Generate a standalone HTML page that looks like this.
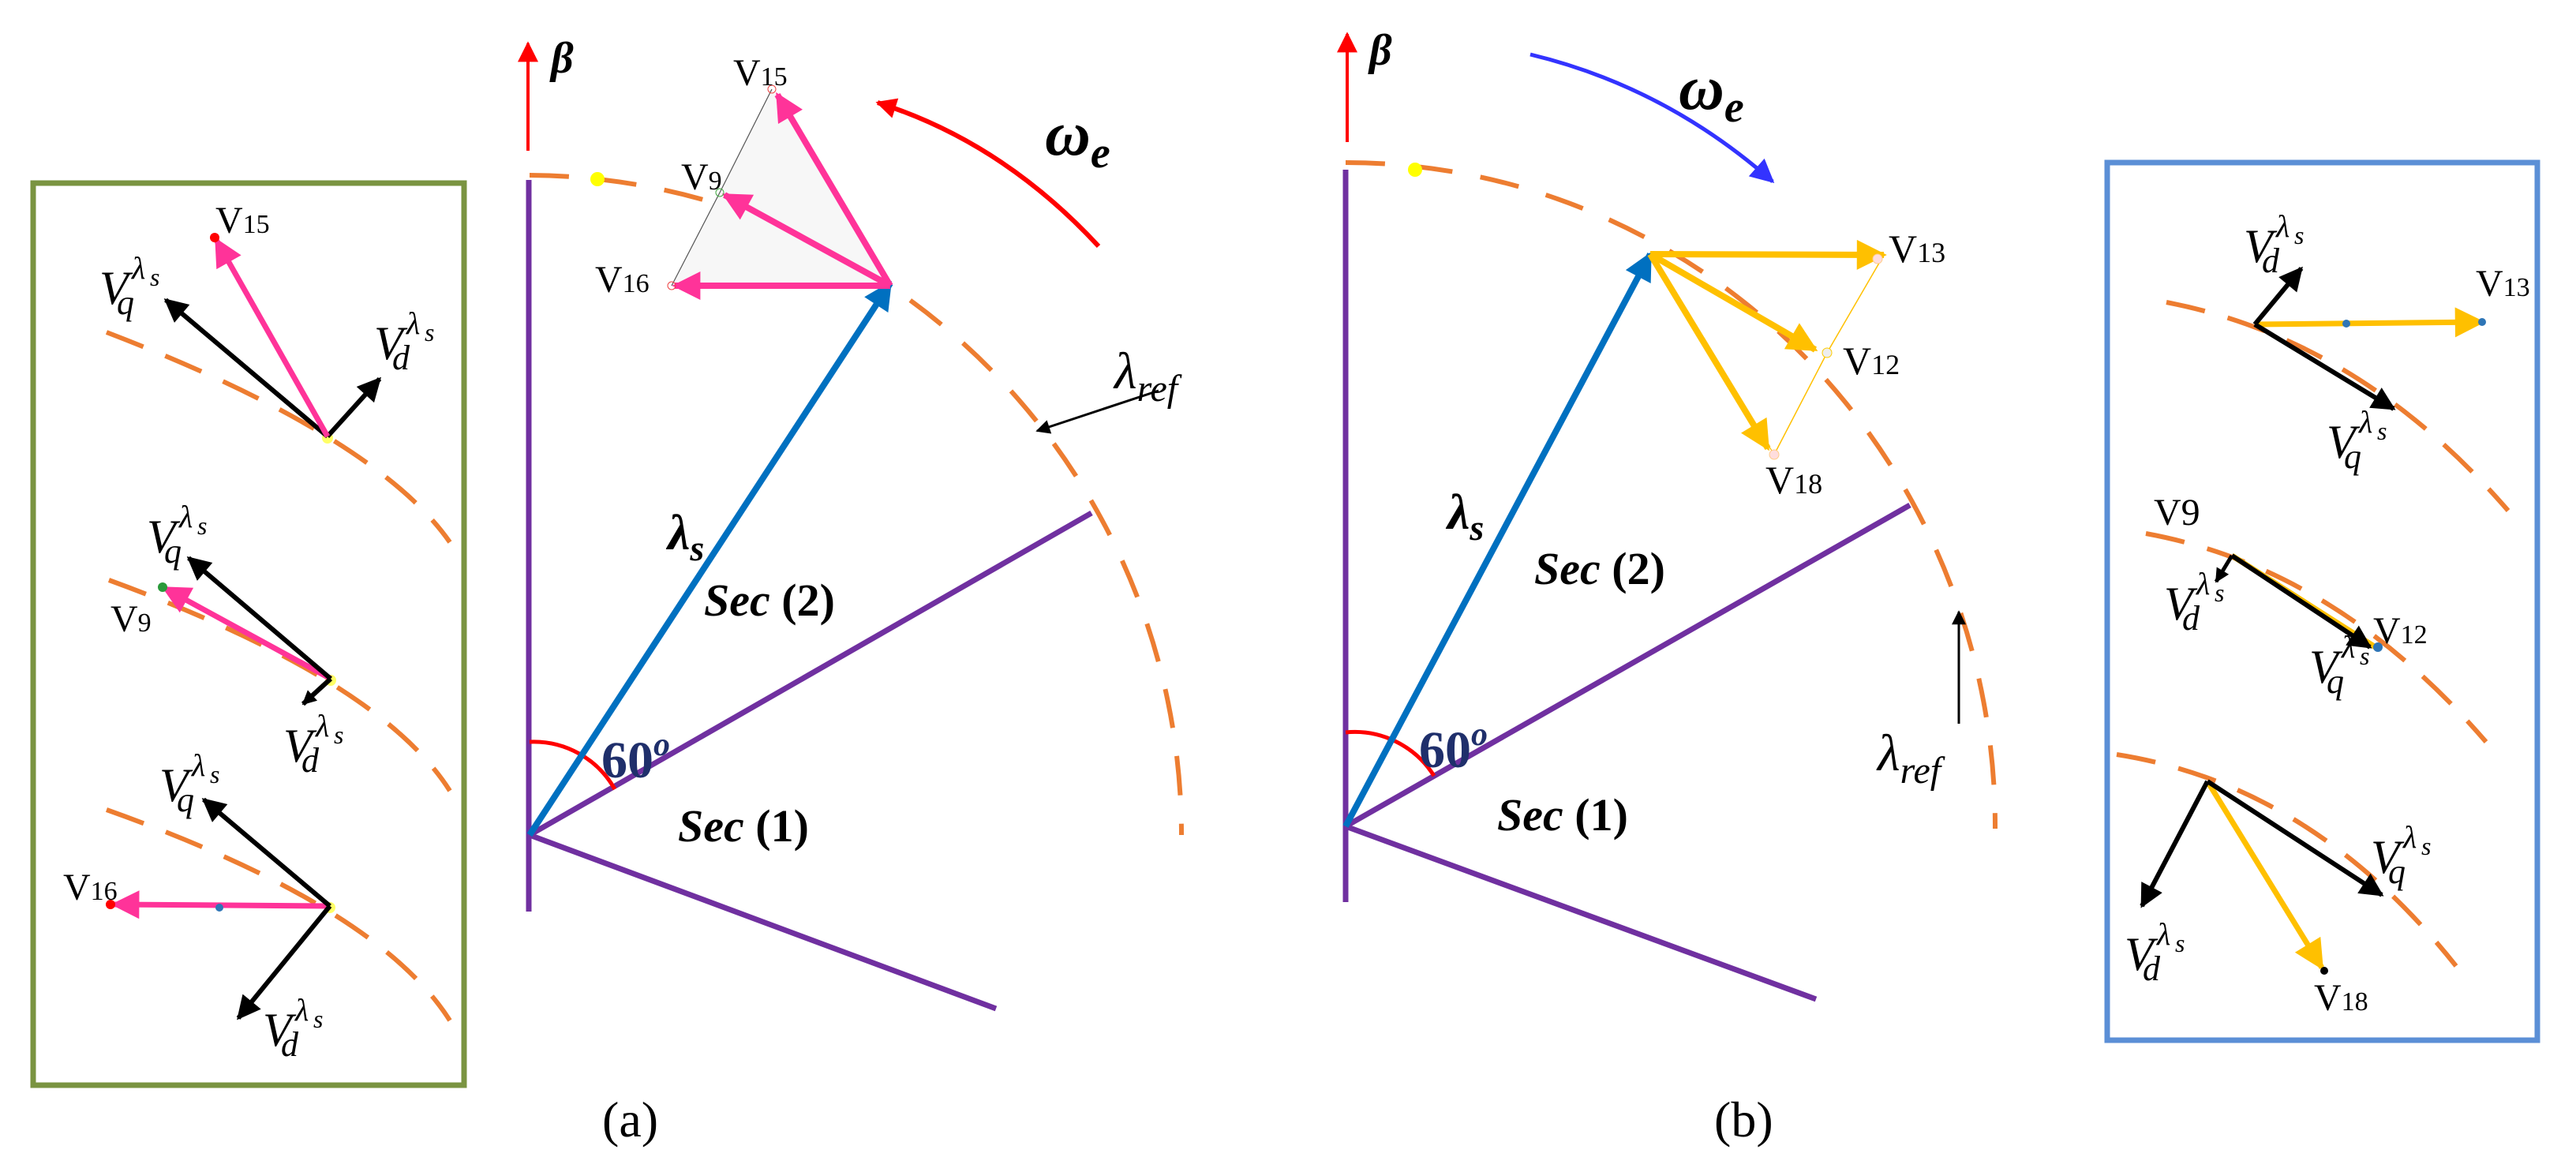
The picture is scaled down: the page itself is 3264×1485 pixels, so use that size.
<!DOCTYPE html>
<html><head><meta charset="utf-8"><style>
html,body{margin:0;padding:0;background:#fff;}
svg{display:block;}
text{font-family:"Liberation Serif",serif;}
.it{font-style:italic;}
.bi{font-style:italic;font-weight:bold;}
</style></head><body>
<svg width="3264" height="1485" viewBox="0 0 3264 1485" xmlns="http://www.w3.org/2000/svg">
<defs>
<marker id="mk" viewBox="0 0 10 10" refX="9" refY="5" markerUnits="userSpaceOnUse" markerWidth="34" markerHeight="30" orient="auto"><path d="M0,0 L10,5 L0,10 z" fill="#000"/></marker>
<marker id="mp" viewBox="0 0 10 10" refX="9" refY="5" markerUnits="userSpaceOnUse" markerWidth="44" markerHeight="36" orient="auto"><path d="M0,0 L10,5 L0,10 z" fill="#ff3399"/></marker>
<marker id="my" viewBox="0 0 10 10" refX="9" refY="5" markerUnits="userSpaceOnUse" markerWidth="46" markerHeight="38" orient="auto"><path d="M0,0 L10,5 L0,10 z" fill="#ffc000"/></marker>
<marker id="mb" viewBox="0 0 10 10" refX="9" refY="5" markerUnits="userSpaceOnUse" markerWidth="44" markerHeight="36" orient="auto"><path d="M0,0 L10,5 L0,10 z" fill="#0070c0"/></marker>
<marker id="mr" viewBox="0 0 10 10" refX="9" refY="5" markerUnits="userSpaceOnUse" markerWidth="30" markerHeight="26" orient="auto"><path d="M0,0 L10,5 L0,10 z" fill="#ff0000"/></marker>
<marker id="mbl" viewBox="0 0 10 10" refX="9" refY="5" markerUnits="userSpaceOnUse" markerWidth="40" markerHeight="30" orient="auto"><path d="M0,0 L10,5 L0,10 z" fill="#3333ff"/></marker>
<marker id="mk2" viewBox="0 0 10 10" refX="9" refY="5" markerUnits="userSpaceOnUse" markerWidth="24" markerHeight="18" orient="auto"><path d="M0,0 L10,5 L0,10 z" fill="#000"/></marker>
</defs>

<!-- ============ PANEL (a) ============ -->
<line x1="669" y1="191" x2="669" y2="55" stroke="#ff0000" stroke-width="4" marker-end="url(#mr)"/>
<text x="698" y="92" class="bi" font-size="56">β</text>
<path d="M671,222 A830,836 0 0 1 1497,1058" fill="none" stroke="#ed7d31" stroke-width="6" stroke-dasharray="50,36"/>
<circle cx="757" cy="227" r="9" fill="#ffff00"/>
<line x1="670" y1="228" x2="670" y2="1155" stroke="#7030a0" stroke-width="7"/>
<line x1="671" y1="1058" x2="1383" y2="650" stroke="#7030a0" stroke-width="7"/>
<line x1="671" y1="1058" x2="1262" y2="1278" stroke="#7030a0" stroke-width="7"/>
<path d="M671,940 A118,118 0 0 1 779,1000" fill="none" stroke="#ff0000" stroke-width="5"/>
<text x="762" y="985" font-size="66" font-weight="bold" fill="#1f2f6b">60<tspan font-size="42" dy="-28" font-style="italic">o</tspan></text>
<line x1="671" y1="1058" x2="1128" y2="359" stroke="#0070c0" stroke-width="8" marker-end="url(#mb)"/>
<text x="846" y="696" class="bi" font-size="64">λ<tspan font-size="46" dy="14">s</tspan></text>
<text x="892" y="780" font-size="58"><tspan class="bi">Sec</tspan> <tspan font-weight="bold">(2)</tspan></text>
<text x="859" y="1066" font-size="58"><tspan class="bi">Sec</tspan> <tspan font-weight="bold">(1)</tspan></text>
<polygon points="978,113 912,244 851,362 1128,362" fill="#f7f7f7"/>
<polyline points="978,113 912,244 851,362" fill="none" stroke="#555" stroke-width="1.2"/>
<line x1="1128" y1="362" x2="985" y2="120" stroke="#ff3399" stroke-width="8" marker-end="url(#mp)"/>
<line x1="1128" y1="362" x2="918" y2="247" stroke="#ff3399" stroke-width="8" marker-end="url(#mp)"/>
<line x1="1128" y1="362" x2="855" y2="362" stroke="#ff3399" stroke-width="8" marker-end="url(#mp)"/>
<circle cx="978" cy="113" r="5" fill="none" stroke="#e44"/>
<circle cx="912" cy="244" r="5" fill="none" stroke="#4a4"/>
<circle cx="851" cy="362" r="5" fill="none" stroke="#e44"/>
<text x="929" y="108" font-size="48">V<tspan font-size="34">15</tspan></text>
<text x="863" y="240" font-size="48">V<tspan font-size="34">9</tspan></text>
<text x="754" y="370" font-size="48">V<tspan font-size="34">16</tspan></text>
<path d="M1392,312 Q1270,180 1112,130" fill="none" stroke="#ff0000" stroke-width="6" marker-end="url(#mr)"/>
<text x="1324" y="196" class="bi" font-size="80">ω<tspan font-size="56" dy="16">e</tspan></text>
<text x="1412" y="492" class="it" font-size="66">λ<tspan font-size="48" dy="16">ref</tspan></text>
<line x1="1468" y1="495" x2="1314" y2="546" stroke="#000" stroke-width="3" marker-end="url(#mk2)"/>
<text x="763" y="1440" font-size="64">(a)</text>

<!-- inset (a) -->
<rect x="42" y="232" width="546" height="1143" fill="none" stroke="#7a9441" stroke-width="7"/>
<g fill="none" stroke="#ed7d31" stroke-width="6" stroke-dasharray="50,30">
<path d="M135,421 Q476,552 570,687"/>
<path d="M138,735 Q480,860 570,1002"/>
<path d="M135,1026 Q478,1148 570,1293"/>
</g>
<circle cx="415" cy="555" r="7" fill="#ffff66"/>
<line x1="415" y1="553" x2="210" y2="380" stroke="#000" stroke-width="6" marker-end="url(#mk)"/>
<line x1="415" y1="553" x2="481" y2="480" stroke="#000" stroke-width="6" marker-end="url(#mk)"/>
<line x1="415" y1="553" x2="274" y2="304" stroke="#ff3399" stroke-width="7" marker-end="url(#mp)"/>
<circle cx="272" cy="301" r="6" fill="#ff0000"/>
<text x="273" y="295" font-size="48">V<tspan font-size="34">15</tspan></text>
<text x="126" y="385" class="it" font-size="60">V</text><text x="148" y="398" class="it" font-size="44">q</text><text x="167" y="353" class="it" font-size="40">λ</text><text x="190" y="362" class="it" font-size="32">s</text>
<text x="474" y="455" class="it" font-size="60">V</text><text x="497" y="468" class="it" font-size="44">d</text><text x="515" y="423" class="it" font-size="40">λ</text><text x="538" y="432" class="it" font-size="32">s</text>
<circle cx="419" cy="862" r="7" fill="#ffff66"/>
<line x1="419" y1="860" x2="208" y2="745" stroke="#ff3399" stroke-width="7" marker-end="url(#mp)"/>
<line x1="419" y1="860" x2="239" y2="707" stroke="#000" stroke-width="6" marker-end="url(#mk)"/>
<line x1="419" y1="860" x2="384" y2="892" stroke="#000" stroke-width="6" marker-end="url(#mk2)"/>
<circle cx="206" cy="744" r="6" fill="#2a9a3a"/>
<text x="140" y="800" font-size="48">V<tspan font-size="34">9</tspan></text>
<text x="186" y="700" class="it" font-size="60">V</text><text x="208" y="713" class="it" font-size="44">q</text><text x="227" y="668" class="it" font-size="40">λ</text><text x="250" y="677" class="it" font-size="32">s</text>
<text x="359" y="965" class="it" font-size="60">V</text><text x="382" y="978" class="it" font-size="44">d</text><text x="400" y="933" class="it" font-size="40">λ</text><text x="423" y="942" class="it" font-size="32">s</text>
<circle cx="418" cy="1150" r="7" fill="#ffff66"/>
<line x1="418" y1="1148" x2="144" y2="1146" stroke="#ff3399" stroke-width="7" marker-end="url(#mp)"/>
<line x1="418" y1="1148" x2="258" y2="1013" stroke="#000" stroke-width="6" marker-end="url(#mk)"/>
<line x1="418" y1="1148" x2="302" y2="1290" stroke="#000" stroke-width="6" marker-end="url(#mk)"/>
<circle cx="140" cy="1146" r="6" fill="#ff0000"/>
<circle cx="278" cy="1150" r="5" fill="#2e75b6"/>
<text x="80" y="1140" font-size="48">V<tspan font-size="34">16</tspan></text>
<text x="202" y="1015" class="it" font-size="60">V</text><text x="224" y="1028" class="it" font-size="44">q</text><text x="243" y="983" class="it" font-size="40">λ</text><text x="266" y="992" class="it" font-size="32">s</text>
<text x="333" y="1325" class="it" font-size="60">V</text><text x="356" y="1338" class="it" font-size="44">d</text><text x="374" y="1293" class="it" font-size="40">λ</text><text x="397" y="1302" class="it" font-size="32">s</text>

<!-- ============ PANEL (b) ============ -->
<line x1="1707" y1="180" x2="1707" y2="43" stroke="#ff0000" stroke-width="4" marker-end="url(#mr)"/>
<text x="1735" y="82" class="bi" font-size="56">β</text>
<path d="M1705,206 A823,841 0 0 1 2528,1050" fill="none" stroke="#ed7d31" stroke-width="6" stroke-dasharray="50,36"/>
<circle cx="1793" cy="215" r="9" fill="#ffff00"/>
<line x1="1705" y1="215" x2="1705" y2="1143" stroke="#7030a0" stroke-width="7"/>
<line x1="1705" y1="1047" x2="2420" y2="640" stroke="#7030a0" stroke-width="7"/>
<line x1="1705" y1="1047" x2="2301" y2="1266" stroke="#7030a0" stroke-width="7"/>
<path d="M1705,928 A119,119 0 0 1 1817,983" fill="none" stroke="#ff0000" stroke-width="5"/>
<text x="1798" y="972" font-size="66" font-weight="bold" fill="#1f2f6b">60<tspan font-size="42" dy="-28" font-style="italic">o</tspan></text>
<line x1="1705" y1="1047" x2="2091" y2="322" stroke="#0070c0" stroke-width="8" marker-end="url(#mb)"/>
<text x="1834" y="670" class="bi" font-size="64">λ<tspan font-size="46" dy="14">s</tspan></text>
<text x="1944" y="740" font-size="58"><tspan class="bi">Sec</tspan> <tspan font-weight="bold">(2)</tspan></text>
<text x="1897" y="1052" font-size="58"><tspan class="bi">Sec</tspan> <tspan font-weight="bold">(1)</tspan></text>
<polyline points="2387,323 2315,447 2248,576" fill="none" stroke="#ffc000" stroke-width="1.5"/>
<line x1="2091" y1="322" x2="2248" y2="576" stroke="#ffc000" stroke-width="1.2"/>
<line x1="2091" y1="322" x2="2387" y2="323" stroke="#ffc000" stroke-width="8" marker-end="url(#my)"/>
<line x1="2091" y1="322" x2="2300" y2="443" stroke="#ffc000" stroke-width="8" marker-end="url(#my)"/>
<line x1="2091" y1="322" x2="2240" y2="568" stroke="#ffc000" stroke-width="8" marker-end="url(#my)"/>
<circle cx="2379" cy="328" r="6" fill="#fdd" stroke="#fc8"/>
<circle cx="2315" cy="447" r="6" fill="#eee" stroke="#fc0"/>
<circle cx="2248" cy="576" r="6" fill="#fdd" stroke="#fc8"/>
<text x="2393" y="332" font-size="50">V<tspan font-size="36">13</tspan></text>
<text x="2335" y="474" font-size="50">V<tspan font-size="36">12</tspan></text>
<text x="2237" y="625" font-size="50">V<tspan font-size="36">18</tspan></text>
<path d="M1939,69 Q2110,110 2246,230" fill="none" stroke="#3333ff" stroke-width="5" marker-end="url(#mbl)"/>
<text x="2127" y="138" class="bi" font-size="80">ω<tspan font-size="56" dy="16">e</tspan></text>
<line x1="2482" y1="917" x2="2482" y2="775" stroke="#000" stroke-width="3" marker-end="url(#mk2)"/>
<text x="2379" y="976" class="it" font-size="66">λ<tspan font-size="48" dy="16">ref</tspan></text>
<text x="2172" y="1440" font-size="64">(b)</text>

<!-- inset (b) -->
<rect x="2670" y="206" width="545" height="1112" fill="none" stroke="#5b8fd6" stroke-width="7"/>
<g fill="none" stroke="#ed7d31" stroke-width="6" stroke-dasharray="50,30">
<path d="M2745,383 Q2990,430 3178,647"/>
<path d="M2719,676 Q2960,720 3150,940"/>
<path d="M2682,956 Q2930,995 3112,1224"/>
</g>
<line x1="2857" y1="411" x2="3145" y2="408" stroke="#ffc000" stroke-width="7" marker-end="url(#my)"/>
<line x1="2857" y1="411" x2="2916" y2="340" stroke="#000" stroke-width="6" marker-end="url(#mk)"/>
<line x1="2857" y1="411" x2="3033" y2="518" stroke="#000" stroke-width="6" marker-end="url(#mk)"/>
<circle cx="2973" cy="410" r="5" fill="#2e75b6"/>
<circle cx="3145" cy="408" r="5" fill="#2e75b6"/>
<text x="3137" y="375" font-size="48">V<tspan font-size="34">13</tspan></text>
<text x="2843" y="332" class="it" font-size="60">V</text><text x="2866" y="345" class="it" font-size="44">d</text><text x="2884" y="300" class="it" font-size="40">λ</text><text x="2907" y="309" class="it" font-size="32">s</text>
<text x="2948" y="580" class="it" font-size="60">V</text><text x="2970" y="593" class="it" font-size="44">q</text><text x="2989" y="548" class="it" font-size="40">λ</text><text x="3012" y="557" class="it" font-size="32">s</text>
<line x1="2828" y1="704" x2="3013" y2="822" stroke="#ffc000" stroke-width="7"/>
<line x1="2828" y1="704" x2="3003" y2="820" stroke="#000" stroke-width="6" marker-end="url(#mk)"/>
<line x1="2828" y1="704" x2="2808" y2="737" stroke="#000" stroke-width="5" marker-end="url(#mk2)"/>
<circle cx="3013" cy="820" r="6" fill="#2e75b6"/>
<text x="2729" y="665" font-size="48">V9</text>
<text x="3007" y="815" font-size="48">V<tspan font-size="34">12</tspan></text>
<text x="2742" y="785" class="it" font-size="60">V</text><text x="2765" y="798" class="it" font-size="44">d</text><text x="2783" y="753" class="it" font-size="40">λ</text><text x="2806" y="762" class="it" font-size="32">s</text>
<text x="2926" y="865" class="it" font-size="60">V</text><text x="2948" y="878" class="it" font-size="44">q</text><text x="2967" y="833" class="it" font-size="40">λ</text><text x="2990" y="842" class="it" font-size="32">s</text>
<line x1="2797" y1="990" x2="2942" y2="1226" stroke="#ffc000" stroke-width="7" marker-end="url(#my)"/>
<line x1="2797" y1="990" x2="2714" y2="1148" stroke="#000" stroke-width="6" marker-end="url(#mk)"/>
<line x1="2797" y1="990" x2="3018" y2="1134" stroke="#000" stroke-width="6" marker-end="url(#mk)"/>
<circle cx="2945" cy="1230" r="5" fill="#000"/>
<text x="2932" y="1280" font-size="48">V<tspan font-size="34">18</tspan></text>
<text x="2692" y="1229" class="it" font-size="60">V</text><text x="2715" y="1242" class="it" font-size="44">d</text><text x="2733" y="1197" class="it" font-size="40">λ</text><text x="2756" y="1206" class="it" font-size="32">s</text>
<text x="3004" y="1106" class="it" font-size="60">V</text><text x="3026" y="1119" class="it" font-size="44">q</text><text x="3045" y="1074" class="it" font-size="40">λ</text><text x="3068" y="1083" class="it" font-size="32">s</text>
</svg>
</body></html>
